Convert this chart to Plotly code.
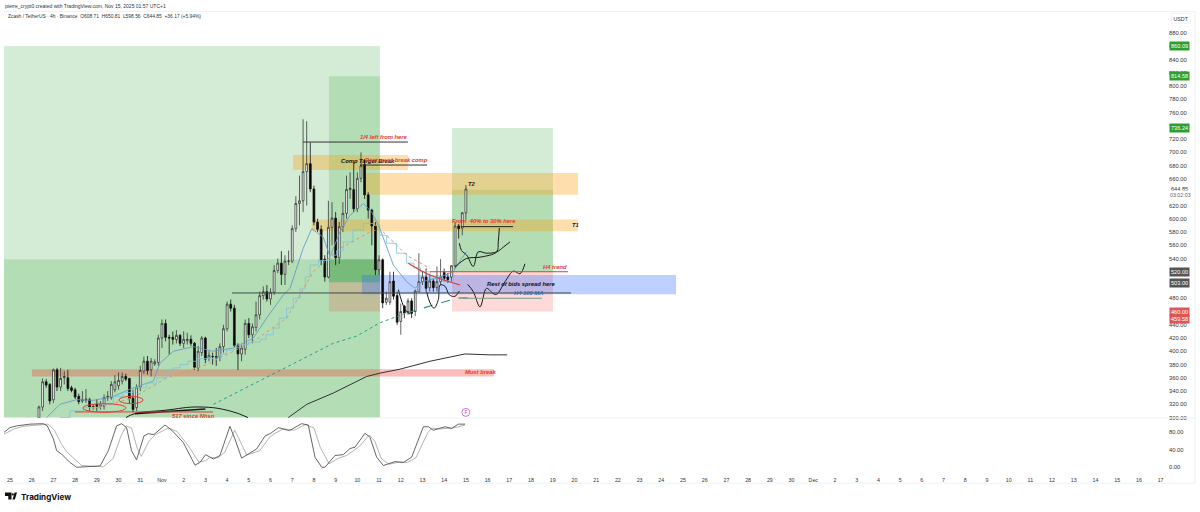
import plotly.graph_objects as go

# 4h candles, x is days since Oct 25 (first candle Oct 26 08:00)
first_candle_day = 1 + 2 / 6
opens = [299,316,354,350,327,372,346,360,360,345,342,332,325,326,327,316,320,317,317,330,
         330,342,348,355,362,359,330,315,346,370,385,372,381,383,420,442,421,421,418,424,
         412,416,418,412,375,398,420,389,392,392,391,407,434,471,465,409,396,403,442,425,
         436,455,484,490,479,489,522,533,516,536,536,585,623,627,671,683,645,595,584,539,
         512,587,601,541,588,608,644,644,615,661,682,636,613,589,523,538,474,474,506,484,
         445,468,460,476,460,490,505,512,496,506,496,505,519,512,512,529,589,586,608.71]
highs = [318,359,358,352,374,375,375,370,372,348,345,336,340,343,330,320,328,325,335,340,
         355,364,368,368,366,360,342,350,378,392,393,390,388,425,448,448,425,430,432,426,
         430,428,424,414,408,423,422,400,398,405,412,440,475,478,470,412,410,448,450,442,
         475,490,498,500,495,530,540,551,545,552,590,634,665,750,747,715,650,600,590,545,
         627,625,610,595,625,665,670,685,670,700,690,640,615,595,545,540,490,520,520,490,
         472,470,480,480,493,548,520,525,515,510,528,539,525,518,530,595,592,610,650.81]
lows = [290,310,345,320,322,340,340,350,340,338,328,320,322,322,310,311,310,312,312,325,
        327,338,342,350,355,322,308,310,340,366,365,362,378,378,405,415,395,410,412,408,
        405,410,408,372,370,393,382,385,380,378,385,398,430,460,405,372,385,395,420,412,
        430,448,478,475,470,485,518,500,500,530,533,580,590,610,620,640,590,580,530,505,
        510,560,530,532,580,600,630,610,610,655,630,600,560,515,515,465,470,470,478,440,
        425,450,455,450,453,490,500,490,490,490,490,500,505,503,505,525,570,575,598.56]
closes = [316,354,349,325,372,346,359,362,344,341,331,324,327,328,316,317,317,320,330,332,
          350,354,356,362,358,329,312,346,371,385,371,385,384,420,442,421,420,418,424,412,
          418,418,412,376,400,420,388,394,392,390,407,434,471,465,409,396,405,442,425,437,
          455,484,490,479,489,522,533,516,536,536,585,623,627,671,683,645,595,584,537,512,
          587,601,541,588,608,644,646,615,661,680,636,613,589,523,538,473,480,505,483,444,
          460,458,476,457,491,505,512,495,506,496,505,512,510,508,529,589,585,609,644.85]

# moving averages and drawn lines as (day, price)
ema_days = [1.69,2.3,3.07,3.84,4.76,5.68,6.6,6.91,7.52,8.44,9.37,10.29,11.21,11.82,12.59,12.9,13.5,13.9,
            14.43,14.74,15.2,15.66,16.28,16.66,17.04,17.66,18.27,18.66,18.89,19.19,19.65,20.42,20.8,21.03]
ema_prices = [300,320,327,326,332,345,355,382,400,407,400,405,420,450,485,495,555,585,
              572,543,580,605,623,610,585,530,505,495,503,507,510,520,540,550]
step_days = [2.3,2.76,3.38,4.15,4.76,5.2,5.68,6.3,6.76,7.22,7.5,7.83,8.2,8.6,9.37,9.7,9.98,10.3,10.59,11.0,
             11.52,11.8,12.13,12.4,12.74,13.05,13.36,13.6,13.82,14.2,14.74,15.05,15.35,15.8,16.28,16.74,
             17.04,17.35,17.8,18.27,18.6,18.9,19.35,19.96,20.42]
step_prices = [300,310,315,320,332,338,345,352,360,370,375,380,385,389,390,396,402,406,410,414,
               418,425,435,450,465,480,495,512,530,537,545,552,565,583,593,590,
               575,563,548,533,526,520,510,505,520]
slow_days = [3.53,5.68,7.22,9.06,11.21,12.74,13.97,15.2,16.58,17.04,18.27,19.35]
slow_prices = [310,330,360,380,415,450,520,555,580,585,545,525]
long_days = [9.37,14.89,15.97,17.04,18.27]
long_prices = [320,412,423,443,458]
long_dark_days = [18.27,19.35,20.57,21.2]
long_dark_prices = [458,468,480,481]
ma200_days = [12.82,13.67,14.89,16.43,17.04,17.96,19.35,20.96,22.1,22.9]
ma200_prices = [300,320,337,362,367,373,385,396,394.6,394.6]
red_trend_days = [18.35,19.35,20.73]
red_trend_prices = [533,515,500]
sketch1_days = [20.7,20.8,21.04,21.34,21.57,21.95,22.42,22.72,23.03]
sketch1_prices = [563,552,545,528,550,548,550,557,565]
sketch2_days = [20.5,21.03,21.65,22.42,22.49,22.54]
sketch2_prices = [527,540,542,550,565,586]
sketch3_days = [19.19,19.35,19.53,19.73,19.81,20.04,20.24,20.5,20.7]
sketch3_prices = [490,473,465,478,500,498,485,483,491]
sketch4_days = [21.08,21.34,21.65,21.95,22.26,22.42,22.8,23.19,23.49,23.72]
sketch4_prices = [501,490,467,495,487,486,505,521,517,532]
sketch5_days = [17.89,18.2,18.43]
sketch5_prices = [493,463,456]
arc_days = [5.34,5.76,7.14,8.75,10.13,10.96]
arc_prices = [300,306,311,316,310,300]
arc_thick_days = [5.76,7.14,9.0]
arc_thick_prices = [306,309,313]

stoch_days = [-0.28,0,0.31,0.92,1.54,1.72,2.0,2.15,2.38,2.76,3.07,3.53,4.15,4.53,4.91,5.14,5.37,5.6,5.83,6.17,
              6.37,6.63,7.14,7.45,7.98,8.52,8.75,9.01,9.37,9.67,10.13,10.36,10.67,11.36,11.75,12.01,12.36,12.87,
              13.43,13.74,14.05,14.36,14.51,14.97,15.35,15.66,15.89,16.35,16.58,16.89,17.2,17.73,18.12,18.5,
              19.04,19.27,19.5,20.04,20.34,20.65,20.96]
stoch_k = [80,91,95,99,100,95,65,38,30,11,0,1,3,38,95,100,91,38,17,72,
           77,75,97,85,57,5,11,29,19,27,94,65,21,42,72,78,91,84,
           100,97,23,0,0,27,29,43,46,78,69,23,4,13,11,23,
           93,93,85,93,89,99,99]
stoch_d_days = [-0.28,0.2,0.6,1.2,1.75,2.05,2.35,2.6,3.0,3.3,4.3,4.75,5.1,5.35,5.6,5.85,6.05,6.4,6.7,7.3,
                7.7,8.2,8.7,9.0,9.2,9.6,9.9,10.35,10.6,10.9,11.5,11.95,12.2,12.6,13.1,13.6,14.0,14.3,14.7,15.1,
                15.5,15.9,16.1,16.55,16.8,17.1,17.45,17.95,18.3,18.7,19.25,19.45,19.8,20.3,20.6,20.96]
stoch_d = [76,88,94,97,99,85,55,36,18,4,1,20,70,95,90,45,25,60,75,90,
           82,50,12,15,22,22,35,85,60,28,38,68,78,88,85,98,90,45,8,20,
           27,40,48,74,60,20,7,12,11,22,80,90,88,90,92,97]

# zones (day from, day to, price from, price to)
target_zone = (-0.28, 17.04, 300, 860.5)
entry_zone = (-0.28, 17.04, 300, 538.8)
mid_green_zone = (14.69, 17.04, 504, 814.8)
mid_dark_zone = (14.69, 17.04, 504, 538.8)
mid_red_zone = (14.69, 17.04, 460, 504)
right_light_zone = (20.36, 25.01, 643.7, 736.8)
right_green_zone = (20.36, 25.01, 520, 643.7)
right_red_zone = (20.36, 25.01, 460, 520)
orange_zones = [(13.04, 18.33, 673.7, 696), (16.4, 26.16, 636, 669), (13.91, 26.16, 581, 599)]
blue_zone = (16.21, 30.68, 486, 515)
must_break_zone = (1.01, 22.29, 362, 373)

# levels (day from, day to, price, colour)
levels = [(13.5, 18.33, 715.7, "#333333"), (16.12, 19.21, 681, "#333333"), (10.23, 25.84, 488, "#3f4a4a"),
          (19.35, 25.7, 520, "#e53935"), (20.77, 23.17, 588, "#222222"), (20.87, 24.5, 480, "#6f9c8c"),
          (2.99, 9.35, 308.5, "#e53935")]
ellipses = [(3.36, 5.34, 308, 321), (5.02, 6.13, 321, 332)]

notes = [("1/4 left from here", 16.03, 723, "#e53935"), ("Comp Target Break", 15.15, 687, "#111111"),
         ("Rest must break comp", 16.26, 689, "#e53935"), ("From  40% to 30% here", 20.27, 596, "#e53935"),
         ("T2", 21.0, 653, "#222222"), ("T1", 25.8, 590, "#222222"), ("H4 trend", 24.46, 527, "#e53935"),
         ("Rest of bids spread here", 21.88, 501, "#111111"), ("H4 100 MA", 23.12, 488, "#2f6fb0"),
         ("Must break", 20.87, 368, "#e53935"), ("517 since Nhsn", 7.37, 303, "#e53935")]

# 640, 520, 500 and 460 sit behind the tags on the scale
price_ticks = [300,320,340,360,380,400,420,440,480,540,560,580,600,620,660,680,700,720,740,760,780,800,820,840,860,880]
stoch_ticks = [0, 40, 80]
date_labels = ["25","26","27","28","29","30","31","Nov","2","3","4","5","6","7","8","9","10","11","12","13","14",
               "15","16","17","18","19","20","21","22","23","24","25","26","27","28","29","30","Dec","2","3","4",
               "5","6","7","8","9","10","11","12","13","14","15","16","17"]
price_tags = [("860.09", 860.09, "#2e9e2e", 0), ("814.58", 814.58, "#2e9e2e", 0), ("736.24", 736.24, "#2e9e2e", 0),
              ("520.00", 520, "#555555", 0), ("503.00", 503, "#555555", 0), ("460.00", 460, "#e25555", 0),
              ("459.58", 459.58, "#e25555", 7)]

GREEN = "rgba(76,175,80,0.24)"
FONT = "Liberation Sans"

fig = go.Figure()


def line(xs, ys, color, width=1, dash="solid", shape="linear", axis="y", smoothing=None):
    ln = dict(color=color, width=width, dash=dash, shape=shape)
    if smoothing:
        ln["smoothing"] = smoothing
    fig.add_trace(go.Scatter(x=xs, y=ys, mode="lines", line=ln, yaxis=axis, xaxis="x",
                             showlegend=False, hoverinfo="skip"))


def zone(z, color):
    fig.add_shape(type="rect", xref="x", yref="y", x0=z[0], x1=z[1], y0=z[2], y1=z[3],
                  fillcolor=color, line_width=0, layer="below")


def hair(x0, y0, x1, y1, color="#eef0f4"):
    fig.add_shape(type="line", xref="paper", yref="paper", x0=x0 / 1200, x1=x1 / 1200,
                  y0=1 - y0 / 512, y1=1 - y1 / 512, line=dict(color=color, width=1))


def paper_text(text, x, y, size=5.3, color="#333333", anchor="left", **kw):
    fig.add_annotation(text=text, xref="paper", yref="paper", x=x / 1200, y=1 - y / 512, showarrow=False,
                       xanchor=anchor, yanchor="middle", font=dict(family=kw.pop("family", FONT), size=size, color=color),
                       **kw)


zone(target_zone, GREEN)
zone(entry_zone, GREEN)
zone(mid_green_zone, GREEN)
zone(mid_dark_zone, "rgba(56,142,60,0.35)")
zone(mid_red_zone, "rgba(244,67,54,0.2)")
zone(right_light_zone, GREEN)
zone(right_green_zone, "rgba(76,175,80,0.42)")
zone(right_red_zone, "rgba(244,67,54,0.2)")
for z in orange_zones:
    zone(z, "rgba(255,152,0,0.32)")
zone(blue_zone, "rgba(41,98,255,0.3)")
zone(must_break_zone, "rgba(244,67,54,0.35)")

candle_days = [first_candle_day + k / 6 for k in range(len(opens))]
fig.add_trace(go.Candlestick(
    x=candle_days, open=opens, high=highs, low=lows, close=closes, xaxis="x", yaxis="y",
    increasing=dict(line=dict(color="#222222", width=0.7), fillcolor="#ffffff"),
    decreasing=dict(line=dict(color="#111111", width=0.8), fillcolor="#000000"),
    whiskerwidth=0, showlegend=False, hoverinfo="skip"))

line(ema_days, ema_prices, "#6a9bc3", 0.9)
line(step_days, step_prices, "#7cc4de", 0.8, shape="hv")
line(slow_days, slow_prices, "#d79a6a", 1, dash="dot")
line(long_days, long_prices, "#2f9c8c", 1, dash="dot")
line(long_dark_days, long_dark_prices, "#2f8f80", 1.2, dash="dash")
line(ma200_days, ma200_prices, "#333333", 1)
line(red_trend_days, red_trend_prices, "#e53935", 1.2, shape="spline")
for xs, ys in [(sketch1_days, sketch1_prices), (sketch2_days, sketch2_prices), (sketch3_days, sketch3_prices),
               (sketch4_days, sketch4_prices), (sketch5_days, sketch5_prices)]:
    line(xs, ys, "#1a1a1a", 1, shape="spline")
line(arc_days, arc_prices, "#1a1a1a", 1, shape="spline", smoothing=1.3)
line(arc_thick_days, arc_thick_prices, "#1a1a1a", 1.6)

for d0, d1, p, c in levels:
    line([d0, d1], [p, p], c, 1)
for d0, d1, p0, p1 in ellipses:
    fig.add_shape(type="circle", xref="x", yref="y", x0=d0, x1=d1, y0=p0, y1=p1,
                  line=dict(color="#e53935", width=1))

line(stoch_d_days, stoch_d, "#aaaaaa", 0.9, axis="y2")
line(stoch_days, stoch_k, "#555555", 0.9, axis="y2")

for text, d, p, c in notes:
    fig.add_annotation(text=f"<b><i>{text}</i></b>", x=d, y=p, xref="x", yref="y", showarrow=False,
                       xanchor="left", yanchor="middle", font=dict(family=FONT, size=5.8, color=c))

fig.add_trace(go.Scatter(x=[21], y=[307.8], mode="markers+text", text=["F"], textposition="middle center",
                         textfont=dict(size=4.5, color="#9c27b0", family=FONT), xaxis="x", yaxis="y",
                         marker=dict(size=8, color="white", line=dict(color="#b05cc6", width=0.8)),
                         showlegend=False, hoverinfo="skip"))

# price scale tags
for text, p, c, shift in price_tags:
    fig.add_annotation(text=text, xref="paper", yref="y", x=1179 / 1200, y=p, yshift=-shift, showarrow=False,
                       xanchor="center", yanchor="middle", bgcolor=c, borderpad=1,
                       font=dict(family=FONT, size=5.6, color="white"))

hair(4, 11.5, 1195, 11.5)
hair(1195, 11.5, 1195, 486)
hair(4, 486, 1195, 486)
hair(380, 420.5, 1195, 420.5)

paper_text("pierre_crypt0 created with TradingView.com, Nov 15, 2025 01:57 UTC+1", 3, 6, size=5)
paper_text("Zcash / TetherUS · 4h · Binance  O608.71  H650.81  L598.56  C644.85  +36.17 (+5.94%)", 6, 17, size=4.9)
paper_text("USDT", 1181, 18.5, anchor="center", bgcolor="white", bordercolor="#e8e8e8", borderwidth=0.5, borderpad=2)
paper_text("644.85", 1179, 190, anchor="center", size=5.6, bgcolor="white")
paper_text("03:02:03", 1180, 196, anchor="center", color="#666666", bgcolor="white")
paper_text("<b>TradingView</b>", 19, 500, size=8.1, color="#111111", family="Inter")

# logo
fig.add_shape(type="path", xref="paper", yref="paper", fillcolor="#111111", line_width=0,
              path=f"M {5/1200} {1-495.5/512} L {11.5/1200} {1-495.5/512} L {11.5/1200} {1-502.5/512} "
                   f"L {8.3/1200} {1-502.5/512} L {8.3/1200} {1-498.8/512} L {5/1200} {1-498.8/512} Z "
                   f"M {12.5/1200} {1-502.5/512} L {14.6/1200} {1-495.5/512} L {17/1200} {1-495.5/512} "
                   f"L {14.9/1200} {1-502.5/512} Z")
fig.add_shape(type="circle", xref="paper", yref="paper", fillcolor="#111111", line_width=0,
              x0=11.7 / 1200, x1=13.9 / 1200, y0=1 - 498.4 / 512, y1=1 - 496.2 / 512)

fig.update_layout(
    width=1200, height=512, margin=dict(l=0, r=0, t=0, b=0), paper_bgcolor="white", plot_bgcolor="white",
    hovermode=False, showlegend=False, font=dict(family=FONT, size=5.3, color="#333333"),
    xaxis=dict(domain=[4 / 1200, 1168 / 1200], range=[-0.276, 53.34], anchor="y2", showgrid=False, zeroline=False,
               rangeslider=dict(visible=False), tickmode="array", tickvals=list(range(len(date_labels))),
               ticktext=date_labels, ticks="outside", ticklen=3, tickcolor="white", tickangle=0,
               tickfont=dict(size=5.3, color="#333333")),
    yaxis=dict(domain=[1 - 420.5 / 512, 1 - 12 / 512], range=[299.3, 912], side="right", anchor="x", showgrid=False,
               zeroline=False, tickmode="array", tickvals=price_ticks, ticktext=[f"{v}.00" for v in price_ticks],
               ticklen=0, tickfont=dict(size=5.8, color="#333333")),
    yaxis2=dict(domain=[1 - 474 / 512, 1 - 420.5 / 512], range=[-9.1, 113], side="right", anchor="x", showgrid=False,
                zeroline=False, tickmode="array", tickvals=stoch_ticks, ticktext=[f"{v}.00" for v in stoch_ticks],
                ticklen=0, tickfont=dict(size=5.8, color="#333333")),
)

# page margin would push the chart off its 1200x512 frame
fig.write_html("out.html", config={"displayModeBar": False}, post_script="document.body.style.margin='0';")
